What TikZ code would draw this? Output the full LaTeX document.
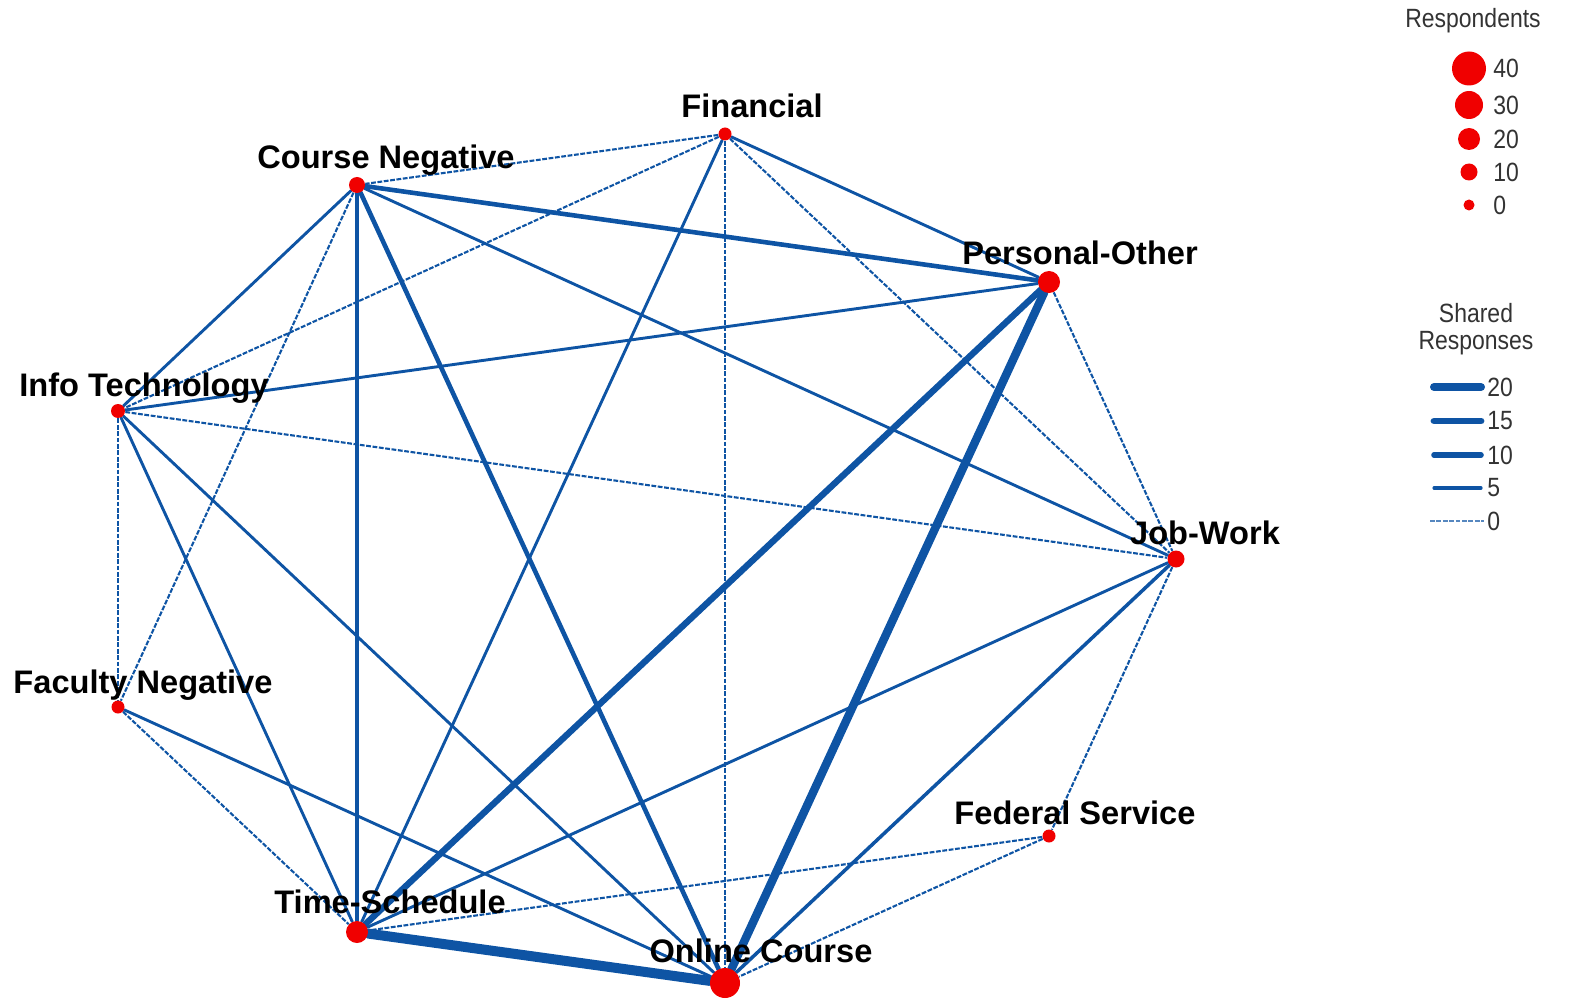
\documentclass[tikz,border=0pt]{standalone}
\usepackage{fontspec}
\setmainfont{Liberation Sans}
\newfontfamily\legendfont[FakeStretch=0.87]{Liberation Sans}
\usetikzlibrary{backgrounds}

\definecolor{linkblue}{RGB}{14,84,164}
\definecolor{dotred}{RGB}{240,0,0}
\definecolor{legendgray}{RGB}{51,51,51}

\tikzset{
  dot/.style={circle, fill=dotred, draw=none, inner sep=0pt, minimum size=#1},
  lbl/.style={font=\fontsize{16.3}{19}\selectfont\bfseries, anchor=base, inner sep=0pt, text=black},
  legtext/.style={font=\legendfont\fontsize{13.2}{13.6}\selectfont, text=legendgray, inner sep=0pt},
  conn/.style={draw=linkblue, line cap=round},
  w0/.style={conn, line width=1.05pt, line cap=butt, dash pattern=on 2.4pt off 0.8pt},
  w5/.style={conn, line width=1.45pt},
  w7/.style={conn, line width=1.75pt},
  w10/.style={conn, line width=2.3pt},
  w15/.style={conn, line width=3.2pt},
  w20/.style={conn, line width=4.2pt},
  w25/.style={conn, line width=5pt},
}

\begin{document}
\begin{tikzpicture}[x=0.5pt, y=-0.5pt]
\useasboundingbox (0,0) rectangle (1579,1000);

% category dots (size by respondents)
\node[dot=6.5pt] (F)  at (725,134) {};
\node[dot=8pt]   (CN) at (357,185) {};
\node[dot=11pt]  (PO) at (1049,282) {};
\node[dot=7pt]   (IT) at (118,411) {};
\node[dot=8.5pt] (JW) at (1176,559) {};
\node[dot=6.5pt] (FN) at (118,707) {};
\node[dot=6.5pt] (FS) at (1049,836) {};
\node[dot=11pt]  (TS) at (357,932) {};
\node[dot=15pt]  (OC) at (725,983) {};

% shared responses between categories
\begin{pgfonlayer}{background}
\draw[w0]  (F) -- (CN);
\draw[w0]  (F) -- (IT);
\draw[w5]  (F) -- (PO);
\draw[w0]  (F) -- (JW);
\draw[w5]  (F) -- (TS);
\draw[w0]  (F) -- (OC);
\draw[w10] (CN) -- (PO);
\draw[w5]  (CN) -- (IT);
\draw[w5]  (CN) -- (JW);
\draw[w0]  (CN) -- (FN);
\draw[w10] (CN) -- (TS);
\draw[w10] (CN) -- (OC);
\draw[w5]  (PO) -- (IT);
\draw[w0]  (PO) -- (JW);
\draw[w15] (PO) -- (TS);
\draw[w20] (PO) -- (OC);
\draw[w0]  (IT) -- (JW);
\draw[w0]  (IT) -- (FN);
\draw[w5]  (IT) -- (TS);
\draw[w5]  (IT) -- (OC);
\draw[w5]  (JW) -- (TS);
\draw[w7]  (JW) -- (OC);
\draw[w0]  (JW) -- (FS);
\draw[w0]  (FN) -- (TS);
\draw[w5]  (FN) -- (OC);
\draw[w0]  (FS) -- (TS);
\draw[w0]  (FS) -- (OC);
\draw[w25] (TS) -- (OC);
\end{pgfonlayer}

% category labels
\node[lbl] (Flbl)  at (752,118)  {Financial};
\node[lbl] (CNlbl) at (386,169)  {Course Negative};
\node[lbl] (POlbl) at (1080,264) {Personal-Other};
\node[lbl] (ITlbl) at (144,396)  {Info Technology};
\node[lbl] (JWlbl) at (1205,544) {Job-Work};
\node[lbl] (FNlbl) at (143,693)  {Faculty Negative};
\node[lbl] (FSlbl) at (1075,824) {Federal Service};
\node[lbl] (TSlbl) at (390,913)  {Time-Schedule};
\node[lbl] (OClbl) at (761,962)  {Online Course};

% legend: respondents
\node[legtext] (resp) at (1473,21) {Respondents};
\node[dot=17pt]  (r40) at (1469,68.5) {};
\node[dot=14pt]  (r30) at (1469,105) {};
\node[dot=11pt]  (r20) at (1469,139) {};
\node[dot=8.5pt] (r10) at (1469,172) {};
\node[dot=5.5pt] (r0)  at (1469,205) {};
\node[legtext, anchor=west] (r40t) at (1493,68.5) {40};
\node[legtext, anchor=west] (r30t) at (1493,105) {30};
\node[legtext, anchor=west] (r20t) at (1493,139) {20};
\node[legtext, anchor=west] (r10t) at (1493,172) {10};
\node[legtext, anchor=west] (r0t)  at (1493,205) {0};

% legend: shared responses
\node[legtext, align=center] (shared) at (1476,329.5) {Shared\\Responses};
\coordinate (s20a) at (1434,387); \coordinate (s20b) at (1481,387);
\coordinate (s15a) at (1434,421); \coordinate (s15b) at (1481,421);
\coordinate (s10a) at (1434,455); \coordinate (s10b) at (1481,455);
\coordinate (s5a)  at (1434,488); \coordinate (s5b)  at (1481,488);
\coordinate (s0a)  at (1430,521); \coordinate (s0b)  at (1484,521);
\draw[conn, line width=4pt]   (s20a) -- (s20b);
\draw[conn, line width=3.4pt] (s15a) -- (s15b);
\draw[conn, line width=2.8pt] (s10a) -- (s10b);
\draw[conn, line width=1.6pt] (s5a) -- (s5b);
\draw[w0, draw=linkblue!70] (s0a) -- (s0b);
\node[legtext, anchor=west] (s20t) at (1487,387) {20};
\node[legtext, anchor=west] (s15t) at (1487,421) {15};
\node[legtext, anchor=west] (s10t) at (1487,455) {10};
\node[legtext, anchor=west] (s5t)  at (1487,488) {5};
\node[legtext, anchor=west] (s0t)  at (1487,521) {0};
\end{tikzpicture}
\end{document}
